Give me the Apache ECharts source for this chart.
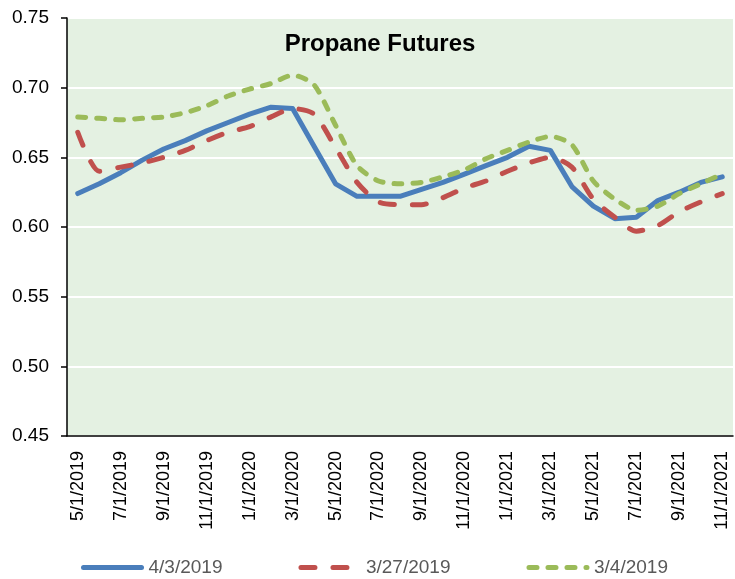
<!DOCTYPE html>
<html>
<head>
<meta charset="utf-8">
<title>Propane Futures</title>
<script src="https://cdn.jsdelivr.net/npm/echarts@6/dist/echarts.min.js"></script>
<style>
  html, body { margin: 0; padding: 0; background: #fff; }
  #chart { width: 735px; height: 579px; }
</style>
</head>
<body>
<div id="chart"></div>
<script>
const months = [
  '5/1/2019', '6/1/2019', '7/1/2019', '8/1/2019', '9/1/2019', '10/1/2019',
  '11/1/2019', '12/1/2019', '1/1/2020', '2/1/2020', '3/1/2020', '4/1/2020',
  '5/1/2020', '6/1/2020', '7/1/2020', '8/1/2020', '9/1/2020', '10/1/2020',
  '11/1/2020', '12/1/2020', '1/1/2021', '2/1/2021', '3/1/2021', '4/1/2021',
  '5/1/2021', '6/1/2021', '7/1/2021', '8/1/2021', '9/1/2021', '10/1/2021',
  '11/1/2021'
]

// settlement curves
const apr3 = [
  0.624, 0.631, 0.639, 0.648, 0.656, 0.662, 0.669, 0.675, 0.681, 0.686, 0.685,
  0.658, 0.631, 0.622, 0.622, 0.622, 0.627, 0.632, 0.638, 0.644, 0.650, 0.658,
  0.655, 0.629, 0.615, 0.606, 0.607, 0.619, 0.625, 0.632, 0.636
]
const mar27 = [
  0.668, 0.640, 0.643, 0.646, 0.650, 0.655, 0.662, 0.668, 0.672, 0.679, 0.685,
  0.681, 0.657, 0.632, 0.618, 0.616, 0.616, 0.621, 0.628, 0.633, 0.640, 0.646,
  0.650, 0.643, 0.620, 0.607, 0.597, 0.601, 0.611, 0.618, 0.624
]
const mar4 = [
  0.679, 0.678, 0.677, 0.678, 0.679, 0.682, 0.687, 0.694, 0.699, 0.703, 0.709,
  0.702, 0.673, 0.644, 0.633, 0.631, 0.632, 0.636, 0.641, 0.649, 0.655, 0.661,
  0.665, 0.659, 0.633, 0.620, 0.612, 0.615, 0.624, 0.631, 0.638
]

const yMin = 0.45
const yMax = 0.75
const yStep = 0.05

const font = 'Liberation Sans'

const chart = echarts.init(document.getElementById('chart'))
chart.setOption({
  animation: false,
  backgroundColor: '#fff',
  color: ['#4a7ebb', '#c0504d', '#9bbb59'],
  title: {
    text: 'Propane Futures',
    left: 375,
    top: 27,
    textAlign: 'center',
    textStyle: { fontFamily: font, fontSize: 24, fontWeight: 'bold', color: '#000' }
  },
  legend: {
    top: 553,
    left: 76,
    itemWidth: 58,
    itemHeight: 14,
    itemGap: 76,
    itemStyle: { opacity: 0 },
    lineStyle: { width: 5, cap: 'round' },
    textStyle: { fontFamily: font, fontSize: 19, color: '#595959', padding: [0, 0, 0, 2] }
  },
  grid: {
    left: 67,
    top: 18,
    right: 2,
    bottom: 143,
    show: true,
    backgroundColor: '#e4f1e2',
    borderWidth: 0
  },
  xAxis: {
    type: 'category',
    data: months,
    boundaryGap: true,
    axisLine: { lineStyle: { color: '#000', width: 1.5 } },
    axisTick: { length: 6, lineStyle: { color: '#000', width: 1.5 } },
    axisLabel: {
      interval: 1,
      rotate: 90,
      margin: 15,
      fontFamily: font,
      fontSize: 18,
      color: '#000'
    },
    splitLine: { show: false }
  },
  yAxis: {
    type: 'value',
    min: yMin,
    max: yMax,
    interval: yStep,
    axisLine: { show: true, lineStyle: { color: '#000', width: 1.5 } },
    axisTick: { show: true, length: 6, lineStyle: { color: '#000', width: 1.5 } },
    axisLabel: {
      margin: 18,
      fontFamily: font,
      fontSize: 19,
      color: '#000',
      formatter: v => v.toFixed(2)
    },
    splitLine: { lineStyle: { color: '#fff', width: 2 } }
  },
  series: [
    {
      name: '4/3/2019',
      type: 'line',
      data: apr3,
      symbol: 'none',
      lineStyle: { width: 5, cap: 'round', join: 'round' }
    },
    {
      name: '3/27/2019',
      type: 'line',
      data: mar27,
      symbol: 'none',
      smooth: 0.25,
      lineStyle: { width: 5, type: [14, 18], cap: 'round', join: 'round' }
    },
    {
      name: '3/4/2019',
      type: 'line',
      data: mar4,
      symbol: 'none',
      smooth: 0.25,
      lineStyle: { width: 5, type: [8, 11], cap: 'round', join: 'round' }
    }
  ]
})
</script>
</body>
</html>
